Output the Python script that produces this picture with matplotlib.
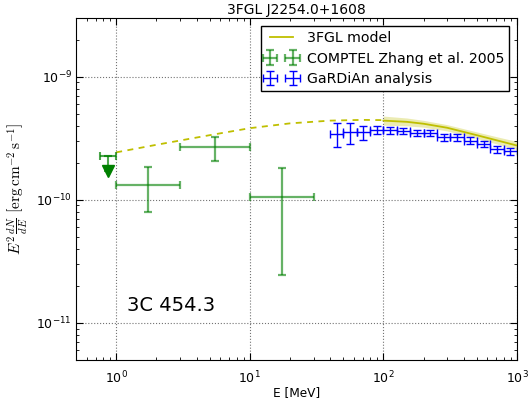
import numpy as np
import matplotlib
matplotlib.use("Agg")
import matplotlib.pyplot as plt
from matplotlib.ticker import NullFormatter


# 3FGL model (dashed = extrapolation, solid = fit range)
model_e_ext = [1.0, 2.0, 5.0, 10.0, 20.0, 40.0, 70.0, 100.0]
model_f_ext = [2.43e-10, 2.80e-10, 3.35e-10, 3.82e-10, 4.18e-10, 4.40e-10, 4.46e-10, 4.44e-10]
model_e = [100.0, 150.0, 200.0, 300.0, 500.0, 700.0, 1000.0]
model_f = [4.40e-10, 4.30e-10, 4.15e-10, 3.85e-10, 3.35e-10, 3.05e-10, 2.76e-10]
model_hi = [4.79e-10, 4.62e-10, 4.42e-10, 4.08e-10, 3.56e-10, 3.26e-10, 2.98e-10]
model_lo = [4.04e-10, 3.99e-10, 3.89e-10, 3.63e-10, 3.15e-10, 2.85e-10, 2.56e-10]

# COMPTEL (Zhang et al. 2005)
comptel_e = [1.73, 5.48, 17.3]
comptel_elo = [1.0, 3.0, 10.0]
comptel_ehi = [3.0, 10.0, 30.0]
comptel_f = [1.32e-10, 2.67e-10, 1.05e-10]
comptel_flo = [8.0e-11, 2.05e-10, 2.43e-11]
comptel_fhi = [1.85e-10, 3.22e-10, 1.82e-10]

# COMPTEL upper limit
ul_e = [0.866]
ul_elo = [0.75]
ul_ehi = [1.0]
ul_f = [2.26e-10]
ul_arrow = [1.73e-10]

# GaRDiAn analysis
gard_e = [44.7, 56.2, 70.8, 89.1, 112, 141, 178, 224, 282, 355, 447, 562, 708, 891]
gard_f = [3.43e-10, 3.54e-10, 3.58e-10, 3.69e-10, 3.69e-10, 3.65e-10, 3.49e-10,
          3.47e-10, 3.22e-10, 3.22e-10, 3.02e-10, 2.84e-10, 2.58e-10, 2.47e-10]
gard_fhi = [4.21e-10, 4.21e-10, 4.00e-10, 3.96e-10, 3.94e-10, 3.86e-10, 3.69e-10,
            3.67e-10, 3.43e-10, 3.44e-10, 3.21e-10, 3.00e-10, 2.75e-10, 2.62e-10]
gard_flo = [2.67e-10, 2.84e-10, 3.06e-10, 3.40e-10, 3.45e-10, 3.45e-10, 3.30e-10,
            3.28e-10, 3.03e-10, 3.01e-10, 2.84e-10, 2.68e-10, 2.42e-10, 2.33e-10]


def xerrs(e, half=0.05):
    e = np.array(e)
    return [e - e / 10**half, e * 10**half - e]


def yerrs(f, lo, hi):
    f = np.array(f)
    return [f - np.array(lo), np.array(hi) - f]


plt.rcParams["xtick.direction"] = "in"
plt.rcParams["ytick.direction"] = "in"
plt.rcParams["xtick.top"] = True
plt.rcParams["ytick.right"] = True
plt.rcParams["xtick.major.size"] = 5
plt.rcParams["ytick.major.size"] = 5
plt.rcParams["xtick.minor.size"] = 2.5
plt.rcParams["ytick.minor.size"] = 2.5

fig = plt.figure(figsize=(5.29, 4.05), dpi=100)
ax = fig.add_axes([0.1437, 0.1111, 0.8336, 0.8445])

ax.plot(model_e_ext, model_f_ext, color="y", lw=1.3, dashes=(3.3, 3.0))
ax.fill_between(model_e, model_lo, model_hi, color="y", alpha=0.3, lw=0)
ax.plot(model_e, model_f, color="y", lw=1.3, label="3FGL model")

ax.errorbar(comptel_e, comptel_f,
            xerr=[np.array(comptel_e) - comptel_elo, np.array(comptel_ehi) - comptel_e],
            yerr=yerrs(comptel_f, comptel_flo, comptel_fhi),
            fmt="none", ecolor="g", alpha=0.6, elinewidth=1.6, capsize=3,
            capthick=1.6, label="COMPTEL Zhang et al. 2005")
ax.errorbar(ul_e, ul_f,
            xerr=[np.array(ul_e) - ul_elo, np.array(ul_ehi) - ul_e],
            yerr=[np.array(ul_f) - ul_arrow, [0]],
            fmt="none", ecolor="g", alpha=0.7, elinewidth=1.5, capsize=3, capthick=1.5)
ax.plot(ul_e, ul_arrow, "v", color="g", ms=8, mec="g")

ax.errorbar(gard_e, gard_f, xerr=xerrs(gard_e),
            yerr=yerrs(gard_f, gard_flo, gard_fhi),
            fmt="none", ecolor="b", elinewidth=1.0, capsize=3, capthick=1.0,
            label="GaRDiAn analysis")

ax.set_xscale("log")
ax.set_yscale("log")
ax.set_xlim(0.5, 1000)
ax.set_ylim(5e-12, 3e-9)
ax.xaxis.set_minor_formatter(NullFormatter())
ax.yaxis.set_minor_formatter(NullFormatter())
ax.grid(True, which="major", color="0.45", ls=":", lw=0.8)

ax.set_title("3FGL J2254.0+1608", fontsize=10, pad=3)
ax.set_xlabel("E [MeV]", fontsize=8.7, labelpad=0)
ax.set_ylabel(r"$E^2\,\frac{dN}{dE}\ \left[\mathrm{erg\,cm^{-2}\,s^{-1}}\right]$",
              fontsize=11, math_fontfamily="cm", labelpad=4)
ax.tick_params(labelsize=9)
ax.tick_params(axis="x", pad=7)
ax.tick_params(axis="y", pad=3)

ax.text(0.116, 0.158, "3C 454.3", transform=ax.transAxes, fontsize=14,
        ha="left", va="center")

leg = ax.legend(loc="upper right", fontsize=10.2, numpoints=2, fancybox=False,
                framealpha=1, borderaxespad=0.55, handlelength=2.2,
                borderpad=0.35, labelspacing=0.48, handletextpad=0.7)
leg.get_frame().set_edgecolor("black")

fig.savefig("out.png", dpi=100)
